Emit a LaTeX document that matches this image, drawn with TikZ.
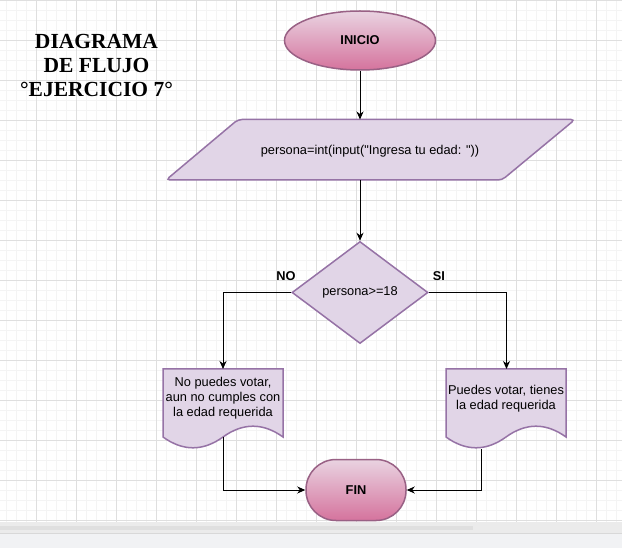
\documentclass[tikz,border=0pt]{standalone}
\usepackage{fontspec}
\setmainfont{Liberation Sans}
\newfontfamily\flowfont{Liberation Sans}
\newfontfamily\titlefont{Liberation Serif}
\usetikzlibrary{shapes.geometric,arrows.meta}
\definecolor{gridmajor}{HTML}{DFDFDF}
\definecolor{gridminor}{HTML}{F4F4F4}
\definecolor{purpfill}{HTML}{E1D5E7}
\definecolor{purpline}{HTML}{9673A6}
\definecolor{pinktop}{HTML}{E9D3E1}
\definecolor{pinkbot}{HTML}{D5739D}
\definecolor{pinkline}{HTML}{996185}
\definecolor{barbg}{HTML}{EBEBEB}
\definecolor{scrollbar}{HTML}{DFDFDF}
\definecolor{barline}{HTML}{D8D8D8}
\definecolor{bottombg}{HTML}{F1F2F4}
\tikzset{
  conn/.style={draw=black, line width=1pt, -{Stealth[length=8pt,width=7pt,inset=2.5pt]}},
  flowtext/.style={font=\flowfont\fontsize{12.8}{15}\selectfont, align=center, text=black},
  terminal/.style={draw=pinkline, line width=1.5pt, top color=pinktop, bottom color=pinkbot,
    font=\flowfont\bfseries\fontsize{12.8}{15}\selectfont, text=black, inner sep=0pt},
  purp/.style={draw=purpline, fill=purpfill, line width=1.5pt},
  branch/.style={font=\flowfont\bfseries\fontsize{12.8}{15}\selectfont, text=black},
  titletext/.style={font=\titlefont\bfseries\fontsize{21.5}{24}\selectfont, text=black, inner sep=0pt}
}
\begin{document}
\begin{tikzpicture}[x=1pt,y=-1pt]
\useasboundingbox (0,0) rectangle (622,548);
% background and grid
\fill[white] (0,0) rectangle (622,522);
\begin{scope}
\clip (0,0) rectangle (622,522);
\foreach \gx in {6.5,16.5,...,622} \draw[gridminor,line width=1pt] (\gx,0) -- (\gx,522);
\foreach \gy in {10.5,20.5,...,522} \draw[gridminor,line width=1pt] (0,\gy) -- (622,\gy);
\foreach \gx in {36.5,76.5,...,622} \draw[gridmajor,line width=1pt] (\gx,0) -- (\gx,522);
\foreach \gy in {0.5,40.5,...,522} \draw[gridmajor,line width=1pt] (0,\gy) -- (622,\gy);
\end{scope}
% bottom bar
\fill[barbg] (0,522) rectangle (622,533);
\fill[scrollbar] (0,526) rectangle (473,530);
\fill[barline] (0,533) rectangle (622,534);
\fill[bottombg] (0,534) rectangle (622,548);
% title
\node[titletext, anchor=base] (t1) at (96.5,49) {DIAGRAMA};
\node[titletext, anchor=base] (t2) at (96.5,72.7) {DE FLUJO};
\node[titletext, anchor=base] (t3) at (96.5,96.3) {°EJERCICIO 7°};
% start
\node[terminal, ellipse, minimum width=151pt, minimum height=59pt] (inicio) at (360,40.5) {INICIO};
% input parallelogram
\filldraw[purp, rounded corners=4pt] (400,119.5) -- (575,119.5) -- (502,180) -- (166,180) -- (238,119.5) -- cycle;
\node[flowtext] (entrada) at (370,151) {persona=int(input("Ingresa tu edad: "))};
\coordinate (entradaTop) at (360,119.5);
\coordinate (entradaBot) at (360,180);
% decision
\node[purp, diamond, minimum width=136pt, minimum height=102pt, inner sep=0pt, flowtext] (decision) at (360,292.5) {persona>=18};
\node[branch] (lblNo) at (286,276) {NO};
\node[branch] (lblSi) at (439,276) {SI};
% documents
\filldraw[purp] (163,369) -- (283,369) -- (283,437) .. controls (263,422.6) and (243,422.6) .. (223,437) .. controls (203,451.4) and (183,451.4) .. (163,437) -- cycle;
\node[flowtext] (docNo) at (223,398.5) {No puedes votar,\\aun no cumples con\\la edad requerida};
\coordinate (noIn) at (223,369);
\coordinate (noOut) at (223,437);
\filldraw[purp] (446,369) -- (566,369) -- (566,437) .. controls (546,422.6) and (526,422.6) .. (506,437) .. controls (486,451.4) and (466,451.4) .. (446,437) -- cycle;
\node[flowtext] (docSi) at (506,398.5) {Puedes votar, tienes\\la edad requerida};
\coordinate (siIn) at (506.5,369);
\coordinate (siOut) at (481,449);
% end
\node[terminal, rectangle, rounded corners=30pt, minimum width=100pt, minimum height=61pt] (fin) at (356,490) {FIN};
% connectors
\draw[conn] (inicio.south) -- (entradaTop);
\draw[conn] (entradaBot) -- (decision.north);
\draw[conn] (decision.west) -| (noIn);
\draw[conn] (decision.east) -| (siIn);
\draw[conn] (noOut) |- (fin.west);
\draw[conn] (siOut) |- (fin.east);
\end{tikzpicture}
\end{document}
